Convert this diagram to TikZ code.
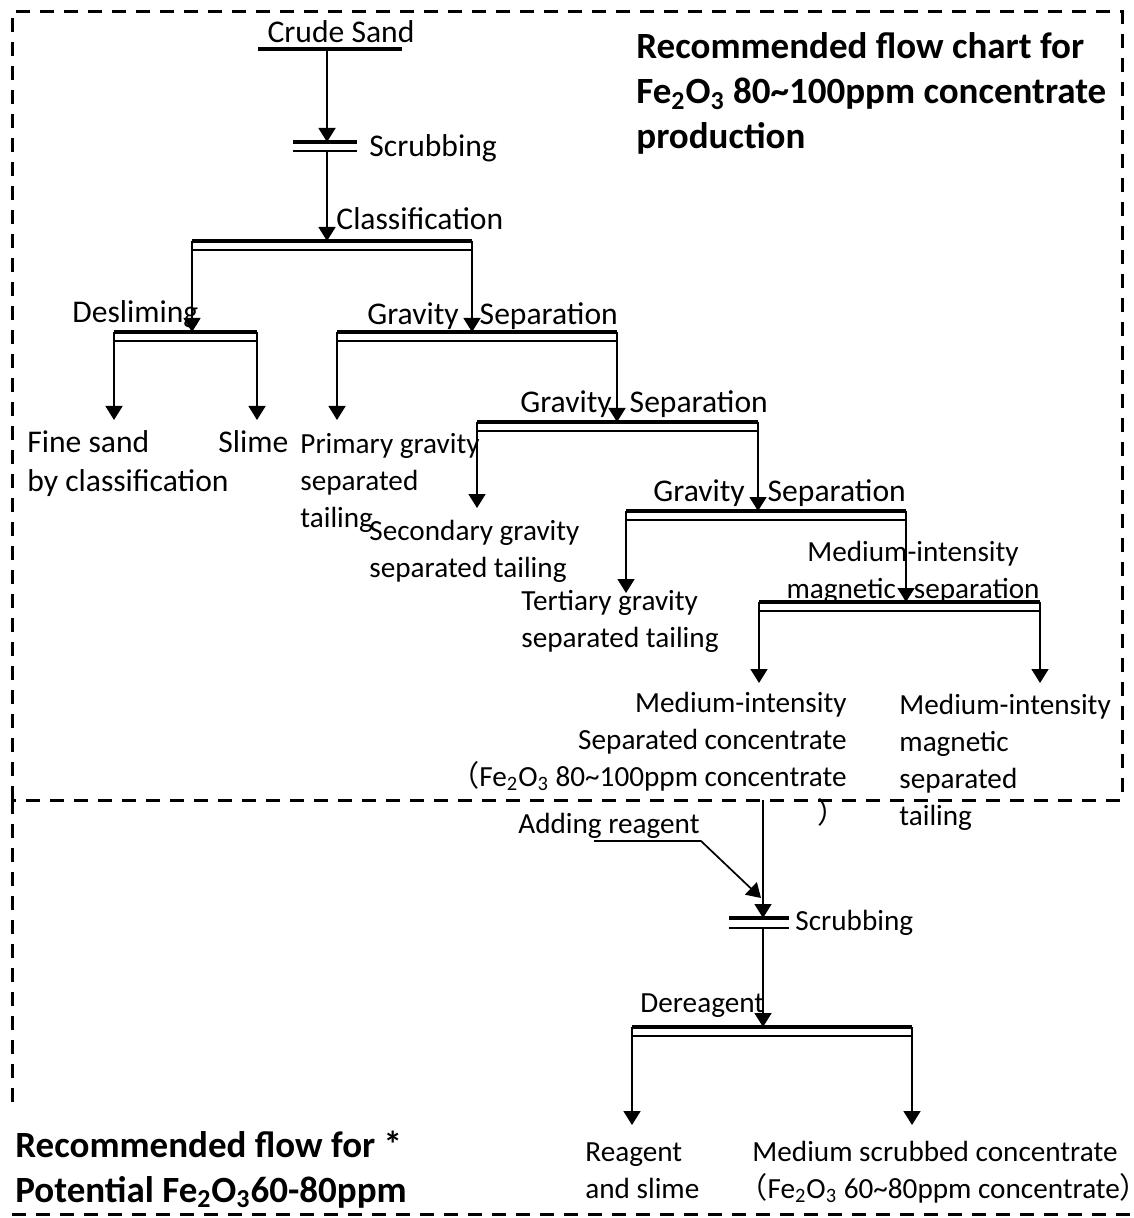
\documentclass[tikz,border=0pt]{standalone}
\usepackage{fontspec}
\setmainfont{Carlito}
\newfontfamily\cjkfont{Noto Sans CJK SC}
\usetikzlibrary{arrows.meta}

\newcommand{\fe}{Fe\textsubscript{2}O\textsubscript{3}}
\newcommand{\lp}{{\cjkfont （}}
\newcommand{\rp}{{\cjkfont ）}}
\newcommand{\rpshort}{\makebox[0.4em][l]{\cjkfont ）}}

\begin{document}
\begin{tikzpicture}
  [x=0.5pt,y=-0.5pt,every node/.style={inner sep=0pt},
   big/.style={font=\fontsize{15.8}{19.5}\selectfont,align=left},
   small/.style={font=\fontsize{14.6}{18.4}\selectfont,align=left},
   head/.style={font=\fontsize{18.5}{22.5}\selectfont\bfseries,align=left},
   flow/.style={line width=0.85pt,-{Triangle[length=7pt,width=8.5pt]}},
   heavy/.style={line width=2pt},
   light/.style={line width=1pt},
   frame/.style={line width=1.5pt,dash pattern=on 7pt off 5pt}]
  \useasboundingbox (0,0) rectangle (1133,1218);

  % dashed frames
  \draw[frame] (12,800) -- (12,12) -- (1122,12) -- (1122,800) -- cycle;
  \draw[frame] (12,800) -- (12,1105);
  \draw[frame] (12,1214) -- (1133,1214);

  % feed line
  \draw[heavy] (258,49) -- (402,49);
  \coordinate (feed) at (327,49);

  % scrubbers
  \foreach \n/\l/\m/\r/\y/\d in {scr1/293/327/357/142/9, scr2/729/763/789/918/10} {
    \draw[heavy] (\l,\y) -- (\r,\y);
    \draw[light] (\l,\y+\d) -- (\r,\y+\d);
    \coordinate (\n-in) at (\m,\y);
    \coordinate (\n-out) at (\m,\y+\d);
  }

  % separators
  \foreach \n/\l/\m/\r/\y in {cls/192/327/472/241, dsl/114/192/257/332,
      gs1/337/472/617/332, gs2/477/617/758/422, gs3/626/758/906/511,
      mms/759/906/1040/602, drg/632/763/912/1027} {
    \draw[heavy] (\l,\y) -- (\r,\y);
    \draw[light] (\l,\y+9) -- (\r,\y+9);
    \coordinate (\n-l) at (\l,\y);
    \coordinate (\n-in) at (\m,\y);
    \coordinate (\n-r) at (\r,\y);
  }

  \coordinate (fine-t) at (114,420);
  \coordinate (slime-t) at (257,420);
  \coordinate (prim-t) at (337,420);
  \coordinate (sec-t) at (477,508);
  \coordinate (tert-t) at (626,593);
  \coordinate (conc-t) at (759,683);
  \coordinate (mtail-t) at (1040,683);
  \coordinate (conc-out) at (763,800);
  \coordinate (reag-t) at (632,1125);
  \coordinate (msc-t) at (912,1125);
  \coordinate (add-a) at (594,841);
  \coordinate (add-b) at (701,841);
  \coordinate (add-t) at (761,898);

  \foreach \from/\to in {feed/scr1-in, scr1-out/cls-in, cls-l/dsl-in, cls-r/gs1-in,
      dsl-l/fine-t, dsl-r/slime-t, gs1-l/prim-t, gs1-r/gs2-in, gs2-l/sec-t,
      gs2-r/gs3-in, gs3-l/tert-t, gs3-r/mms-in, mms-l/conc-t, mms-r/mtail-t,
      conc-out/scr2-in, scr2-out/drg-in, drg-l/reag-t, drg-r/msc-t}
    \draw[flow] (\from) -- (\to);
  \draw[flow] (add-a) -- (add-b) -- (add-t);

  % labels (multi-line ones sit on the baseline of their last line)
  \node[big,anchor=base] (crude) at (341,43) {Crude Sand};
  \node[big,anchor=base west] (scrub1) at (369,157) {Scrubbing};
  \node[big,anchor=base west] (classif) at (336,230) {Classification};
  \node[big,anchor=base west] (deslime) at (72,323) {Desliming};
  \node[big,anchor=base west] (grav1) at (367,325) {Gravity\hspace{10.5pt}Separation};
  \node[big,anchor=base west] (grav2) at (520,413) {Gravity\hspace{9pt}Separation};
  \node[big,anchor=base west] (grav3) at (653,502) {Gravity\hspace{11.5pt}Separation};
  \node[small,align=center,anchor=base] (magsep) at (913,598) {Medium-intensity\\magnetic\hspace{9pt}separation};
  \node[big,anchor=base west] (fine) at (27,492) {Fine sand\\by classification};
  \node[big,anchor=base west] (slime) at (218,453) {Slime};
  \node[small,anchor=base west] (prim) at (300,527) {Primary gravity\\separated\\tailing};
  \node[small,anchor=base west] (second) at (369,577) {Secondary gravity\\separated tailing};
  \node[small,anchor=base west] (tert) at (521,647) {Tertiary gravity\\separated tailing};
  \node[small,align=right,anchor=base east] (conc) at (847,823)
    {Medium-intensity\\Separated concentrate\\\lp\fe\ 80\textasciitilde100ppm concentrate\\\rp};
  \node[small,anchor=base west] (magtail) at (899,825) {Medium-intensity\\magnetic\\separated\\tailing};
  \node[small,anchor=base west] (adding) at (518,833) {Adding reagent};
  \node[small,anchor=base west] (scrub2) at (795,930) {Scrubbing};
  \node[small,anchor=base west] (dereag) at (640,1012) {Dereagent};
  \node[small,anchor=base west] (reagent) at (585,1198) {Reagent\\and slime};
  \node[small,align=center,anchor=base] (medscr) at (935,1198)
    {Medium scrubbed concentrate\\\lp\fe\ 60\textasciitilde80ppm concentrate\rpshort};
  \node[head,anchor=base west] (title1) at (636,149)
    {Recommended flow chart for\\\fe\ 80\textasciitilde100ppm concentrate\\production};
  \node[head,anchor=base west] (title2) at (15,1202) {Recommended flow for *\\Potential \fe60-80ppm};
\end{tikzpicture}
\end{document}
